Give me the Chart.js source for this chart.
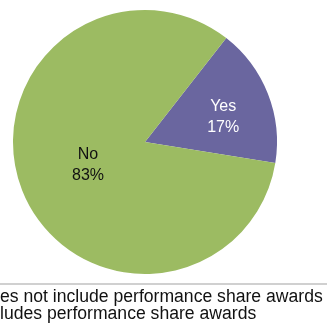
<!DOCTYPE html>
<html>
<head>
<meta charset="utf-8">
<script src="https://cdn.jsdelivr.net/npm/chart.js@4.4.0/dist/chart.umd.min.js"></script>
<style>
  html, body { margin: 0; padding: 0; background: #fff; }
  #wrap { width: 327px; height: 324px; position: relative; }
</style>
</head>
<body>
<div id="wrap"><canvas id="pieChart"></canvas></div>
<script>
const labels = ['Yes', 'No'];
const shares = [17, 83];
const colors = ['#6A669F', '#9CBB62'];
const legendLines = ['Does not include performance share awards', 'Includes performance share awards'];

// labels inside the slices
const sliceLabels = {
    id: 'sliceLabels',
    afterDatasetsDraw(chart) {
        const c = chart.ctx;
        const meta = chart.getDatasetMeta(0);
        const fracs = [0.62, 0.48];
        const dy = [5, 0];
        const txtColors = ['#ffffff', '#111111'];
        meta.data.forEach((arc, i) => {
            const mid = (arc.startAngle + arc.endAngle) / 2;
            const r = arc.outerRadius * fracs[i];
            const x = arc.x + Math.cos(mid) * r + 2;
            const y = arc.y + Math.sin(mid) * r + dy[i];
            c.save();
            c.font = '16px "Liberation Sans", Arial, sans-serif';
            c.fillStyle = txtColors[i];
            c.textAlign = 'center';
            c.textBaseline = 'middle';
            c.fillText(labels[i], x, y - 10.5);
            c.fillText(shares[i] + '%', x, y + 10.5);
            c.restore();
        });
    }
};

// legend text below the pie, cropped at the left edge like the original
const bottomText = {
    id: 'bottomText',
    afterDraw(chart) {
        const c = chart.ctx;
        c.save();
        c.strokeStyle = '#d0d0d0';
        c.lineWidth = 2;
        c.beginPath();
        c.moveTo(0, 284);
        c.lineTo(chart.width, 284);
        c.stroke();
        c.font = '17.6px "Liberation Sans", Arial, sans-serif';
        c.fillStyle = '#111111';
        c.textBaseline = 'middle';
        c.textAlign = 'left';
        c.fillText(legendLines[0], -c.measureText('Do').width, 297);
        c.fillText(legendLines[1], -c.measureText('Inc').width, 314);
        c.restore();
    }
};

const ctx = document.getElementById('pieChart').getContext('2d');
const pieChart = new Chart(ctx, {
    type: 'pie',
    data: {
        labels: labels,
        datasets: [{
            data: shares,
            backgroundColor: colors,
            borderWidth: 0
        }]
    },
    options: {
        responsive: true,
        maintainAspectRatio: false,
        animation: false,
        rotation: 38,
        layout: { padding: { left: 13, top: 10, right: 50, bottom: 50 } },
        plugins: {
            legend: { display: false },
            tooltip: { enabled: false }
        }
    },
    plugins: [sliceLabels, bottomText]
});
</script>
</body>
</html>
